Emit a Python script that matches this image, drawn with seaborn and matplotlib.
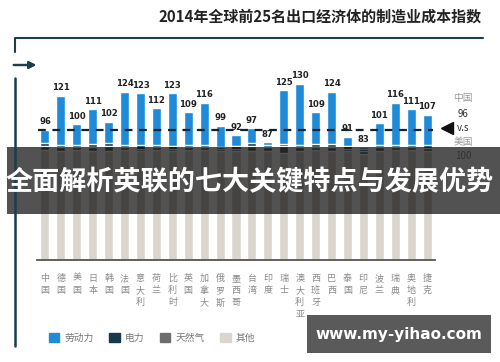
import numpy as np
import pandas as pd
import matplotlib
matplotlib.use("Agg")
import matplotlib.pyplot as plt
import seaborn as sns
from matplotlib.lines import Line2D
from matplotlib.patches import Rectangle, Patch

countries = ["中国", "德国", "美国", "日本", "韩国", "法国", "意大利", "荷兰", "比利时",
             "英国", "加拿大", "俄罗斯", "墨西哥", "台湾", "印度", "瑞士", "澳大利亚",
             "西班牙", "巴西", "泰国", "印尼", "波兰", "瑞典", "奥地利", "捷克"]
index_total = [96, 121, 100, 111, 102, 124, 123, 112, 123, 109, 116, 99, 92,
               97, 87, 125, 130, 109, 124, 91, 83, 101, 116, 111, 107]
# cost components (labor = total - the rest)
electricity = [2, 2, 1.5, 2.5, 2, 1.5, 2.5, 2, 2, 1.5, 1.5, 1.5, 2,
               2, 2, 1.5, 2, 2, 2.5, 2, 1.5, 2, 2, 2, 2]
natural_gas = [3, 3, 2, 3, 4, 2, 2, 2, 2, 2, 2, 1.5, 2,
               4, 3, 5, 3, 2.5, 3, 2, 2, 3, 2, 2, 2.5]
other = [81, 80, 81, 80, 80, 81, 80, 81, 80, 81, 81, 80, 80,
         80, 80, 79, 80, 81, 80, 80, 78, 80, 81, 81, 80]
china_ref = 96

c_labor, c_elec, c_gas, c_other = "#1f8bd8", "#163a4c", "#6d6d6d", "#dad5cf"

sns.set_style("white")
plt.rcParams["font.family"] = ["Noto Sans CJK SC", "DejaVu Sans"]

W, H = 500, 362
fig = plt.figure(figsize=(5, 3.62), dpi=100)

def px(x, y):
    return x / W, 1 - y / H

df = pd.DataFrame({"country": countries, "total": index_total,
                   "elec": electricity, "gas": natural_gas, "other": other})
df["lab_x"] = ["\n".join(c) for c in df["country"]]
df["s_elec"] = df["other"] + df["gas"] + df["elec"]
df["s_gas"] = df["other"] + df["gas"]

ax = fig.add_axes([37 / W, 102 / H, 398 / W, 190 / H])
for col, colr in [("total", c_labor), ("s_elec", c_elec), ("s_gas", c_gas), ("other", c_other)]:
    sns.barplot(data=df, x="lab_x", y=col, color=colr, width=0.57, saturation=1, ax=ax)
ax.set_ylim(0, 140)
ax.set_xlim(-0.5, len(countries) - 0.5)
ax.set_xlabel("")
ax.set_ylabel("")
ax.set_yticks([])
for s in ["left", "top", "right"]:
    ax.spines[s].set_visible(False)
ax.spines["bottom"].set_color("#555555")
ax.spines["bottom"].set_linewidth(1.3)
ax.tick_params(axis="x", length=0, pad=10, labelsize=6.5, labelcolor="#8a8a8a")
for t in ax.get_xticklabels():
    t.set_linespacing(1.45)
    t.set_verticalalignment("top")

for i, v in enumerate(index_total):
    ax.text(i, v + 2.5, str(v), ha="center", va="bottom", fontsize=6.1,
            fontweight="bold", color="#222222", family="DejaVu Sans")

# China reference dashed line
ax.hlines(china_ref, -0.45, 24.35, colors="#10222b", lw=1.6,
          linestyles=(0, (3.5, 3)), zorder=10)

# title and frame
fig.text(*px(320, 17), "2014年全球前25名出口经济体的制造业成本指数", ha="center",
         va="center", fontsize=10.8, fontweight="bold", color="#222222")
fig.add_artist(Line2D([15 / W, 15 / W, 483 / W], [1 - 52 / H, 1 - 38 / H, 1 - 38 / H],
                      color="#1c3d4a", lw=1.5))
fig.add_artist(Line2D([15 / W, 15 / W], [1 - 78 / H, 1 - 346 / H], color="#1c3d4a", lw=1.8))
fig.add_artist(plt.annotate("", xy=px(39, 65), xytext=px(11, 65), xycoords="figure fraction",
                            arrowprops=dict(arrowstyle="-|>", color="#1c3d4a", lw=1.6,
                                            mutation_scale=10)))

# right annotation
fig.add_artist(Line2D([447 / W], [1 - 128 / H], marker="<", markersize=8, color="#111111"))
for y, s in [(98, "中国"), (114, "96"), (128, "v.s"), (142, "美国"), (156, "100")]:
    fig.text(*px(463, y), s, ha="center", va="center", fontsize=7, style="italic",
             color="#333333" if s in ("96", "v.s", "100") else "#999999")

# legend
handles = [Patch(color=c) for c in (c_labor, c_elec, c_gas, c_other)]
fig.legend(handles, ["劳动力", "电力", "天然气", "其他"], loc="center left",
           bbox_to_anchor=px(40, 338), ncol=4, frameon=False, fontsize=7,
           labelcolor="#777777", handlelength=1.1, handleheight=1.1,
           handletextpad=0.5, columnspacing=1.6)

# overlay banner
fig.add_artist(Rectangle(px(7, 214), 493 / W, 67 / H, color="black", alpha=0.68, lw=0))
fig.text(*px(250, 182), "全面解析英联的七大关键特点与发展优势", ha="center", va="center",
         fontsize=19.5, fontweight="bold", color="white")

# watermark
fig.add_artist(Rectangle(px(307, 353), 184 / W, 38 / H, color="#5a5a5a", lw=0))
fig.text(*px(399, 334), "www.my-yihao.com", ha="center", va="center", fontsize=11,
         fontweight="bold", color="white", family="DejaVu Sans")

fig.savefig("out.png", dpi=100)
